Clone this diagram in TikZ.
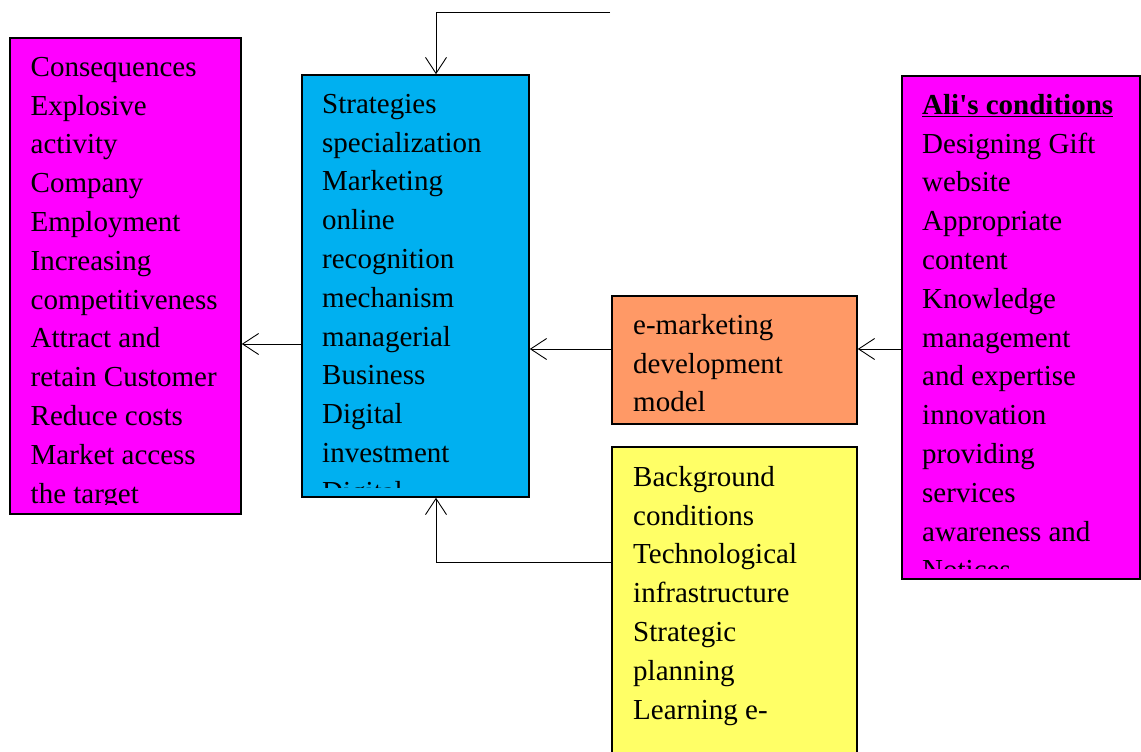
\documentclass[tikz,border=0pt]{standalone}
\usepackage{fontspec}
\setmainfont{Liberation Serif}
\usetikzlibrary{arrows.meta}
\definecolor{mag}{HTML}{FF00FF}
\definecolor{sky}{HTML}{00B0F0}
\definecolor{ora}{HTML}{FF9966}
\definecolor{yel}{HTML}{FFFF66}
\newcommand{\straightapos}{\XeTeXglyph\XeTeXglyphindex"quotesingle"\relax}
\begin{document}
\begin{tikzpicture}[x=1pt,y=-1pt,
  box/.style={draw=black,line width=1.6pt,rectangle,inner sep=0pt},
  txt/.style={anchor=north west,align=left,inner sep=0pt,font=\fontsize{29}{38.8}\selectfont},
  arr/.style={line width=0.9pt,-{Straight Barb[length=16pt,width=21pt,line width=0.9pt]}}]
\clip (0,0) rectangle (1141,752);
\useasboundingbox (0,0) rectangle (1141,752);
% boxes
\node[box,fill=mag,minimum width=231pt,minimum height=476pt] (cons) at (125.5,276) {};
\node[box,fill=sky,minimum width=227pt,minimum height=422pt] (strat) at (415.5,286) {};
\node[box,fill=ora,minimum width=245pt,minimum height=128pt] (model) at (734.5,360) {};
\node[box,fill=yel,minimum width=245pt,minimum height=330pt] (back) at (734.5,612) {};
\node[box,fill=mag,minimum width=238pt,minimum height=503pt] (ali) at (1021,327.5) {};
% texts
\begin{scope}
\clip (12,40) rectangle (239,504);
\node[txt] (t1) at (30.5,54) {\rule{0pt}{22pt}Consequences\\Explosive\\activity\\Company\\Employment\\Increasing\\competitiveness\\Attract and\\retain Customer\\Reduce costs\\Market access\\the target\\};
\end{scope}
\begin{scope}
\clip (304,77) rectangle (527,487);
\node[txt] (t2) at (322,91) {\rule{0pt}{22pt}Strategies\\specialization\\Marketing\\online\\recognition\\mechanism\\managerial\\Business\\Digital\\investment\\Digital};
\end{scope}
\node[txt] (t3) at (633,312) {\rule{0pt}{22pt}e-marketing\\development\\model};
\node[txt] (t4) at (633,464) {\rule{0pt}{22pt}Background\\conditions\\Technological\\infrastructure\\Strategic\\planning\\Learning e-};
\begin{scope}
\clip (904,78) rectangle (1139,568);
\node[txt] (t5) at (922,92) {\rule{0pt}{22pt}\underline{\textbf{Ali\straightapos s conditions}}\\Designing Gift\\website\\Appropriate\\content\\Knowledge\\management\\and expertise\\innovation\\providing\\services\\awareness and\\Notices};
\end{scope}
% connectors
\coordinate (y1) at (0,344);
\coordinate (y2) at (0,349);
\coordinate (y3) at (0,562);
\coordinate (x1) at (436,0);
\coordinate (top) at (610,12);
\draw[arr] (strat.west |- y1) -- (cons.east |- y1);
\draw[arr] (model.west |- y2) -- (strat.east |- y2);
\draw[arr] (ali.west |- y2) -- (model.east |- y2);
\draw[arr] (top) -| (strat.north -| x1);
\draw[arr] (back.west |- y3) -| (strat.south -| x1);
\end{tikzpicture}
\end{document}
